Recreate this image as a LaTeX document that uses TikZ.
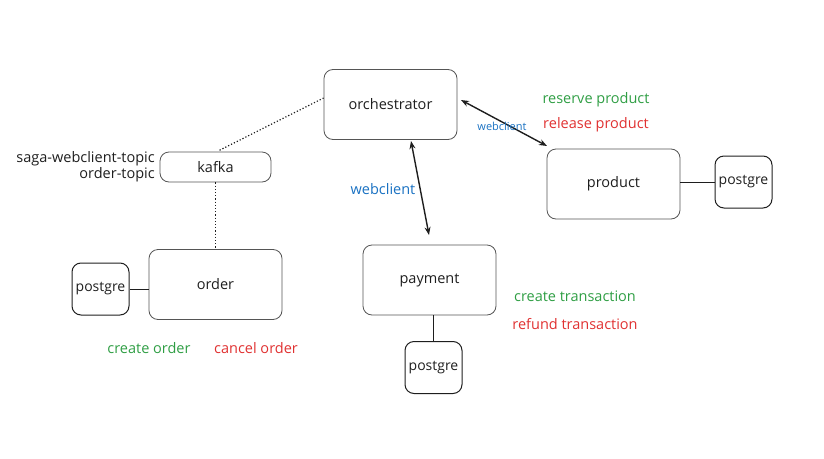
\documentclass[tikz,border=0pt]{standalone}
\usepackage{fontspec}
\setmainfont{Open Sans}
\usetikzlibrary{arrows.meta}
\definecolor{exgreen}{HTML}{2F9E44}
\definecolor{exred}{HTML}{E03131}
\definecolor{exblue}{HTML}{1971C2}
\definecolor{exgray}{HTML}{555555}
\definecolor{exdark}{HTML}{1E1E1E}
\begin{document}
\begin{tikzpicture}[x=1pt,y=-1pt,
  svc/.style={draw=exgray,line width=0.8pt,rounded corners=9pt,minimum width=133pt,minimum height=70pt,inner sep=0pt,font=\fontsize{14.5}{17}\selectfont,text=exdark},
  db/.style={draw=exdark,line width=1pt,rounded corners=9pt,minimum width=57pt,minimum height=52pt,inner sep=0pt,font=\fontsize{14}{17}\selectfont,text=exdark},
  lbl/.style={font=\fontsize{14.5}{17}\selectfont,inner sep=0pt},
  dotline/.style={draw=exdark,line width=1.2pt,dash pattern=on 1.2pt off 2pt},
  biarrow/.style={draw=exdark,line width=1.4pt,{Stealth[length=8pt,width=6pt]}-{Stealth[length=8pt,width=6pt]}},
  plain/.style={draw=exdark,line width=1pt}]
\useasboundingbox (0,0) rectangle (824,458);
\node[svc] (orch) at (390.5,104.5) {orchestrator};
\node[svc,minimum width=111pt,minimum height=30pt] (kafka) at (215.5,167) {kafka};
\node[svc] (product) at (613.5,184) {product};
\node[db] (pgp) at (743.5,182) {postgre};
\node[svc] (order) at (215.5,284.5) {order};
\node[db] (pgo) at (100.5,289) {postgre};
\node[svc] (payment) at (429.5,280) {payment};
\node[db] (pgpay) at (433.5,367.5) {postgre};
\coordinate (ko) at (218,151);
\draw[dotline] (orch.west |- 0,98) -- (ko);
\draw[dotline] (kafka.south) -- (order.north);
\coordinate (a1) at (461,100);
\coordinate (a2) at (547,146);
\draw[biarrow] (a1) -- (a2);
\coordinate (b1) at (411,141);
\coordinate (b2) at (429,235);
\draw[biarrow] (b1) -- (b2);
\draw[plain] (product.east |- 0,182) -- (pgp.west);
\draw[plain] (pgo.east) -- (order.west |- 0,289);
\draw[plain] (payment.south -| 433.5,0) -- (pgpay.north);
\node[lbl,text=exgreen] (l1) at (596,100) {reserve product};
\node[lbl,text=exred] (l2) at (596,125) {release product};
\node[lbl,text=exblue,font=\fontsize{11}{13}\selectfont] (w1) at (502,126) {webclient};
\node[lbl,text=exblue] (w2) at (383,189) {webclient};
\node[lbl,text=exdark,anchor=east] (t1) at (155,159) {saga-webclient-topic};
\node[lbl,text=exdark,anchor=east] (t2) at (155,175) {order-topic};
\node[lbl,text=exgreen] (o1) at (149,348) {create order};
\node[lbl,text=exred] (o2) at (256,348) {cancel order};
\node[lbl,text=exgreen] (p1) at (575,296) {create transaction};
\node[lbl,text=exred] (p2) at (575,324) {refund transaction};
\end{tikzpicture}
\end{document}
